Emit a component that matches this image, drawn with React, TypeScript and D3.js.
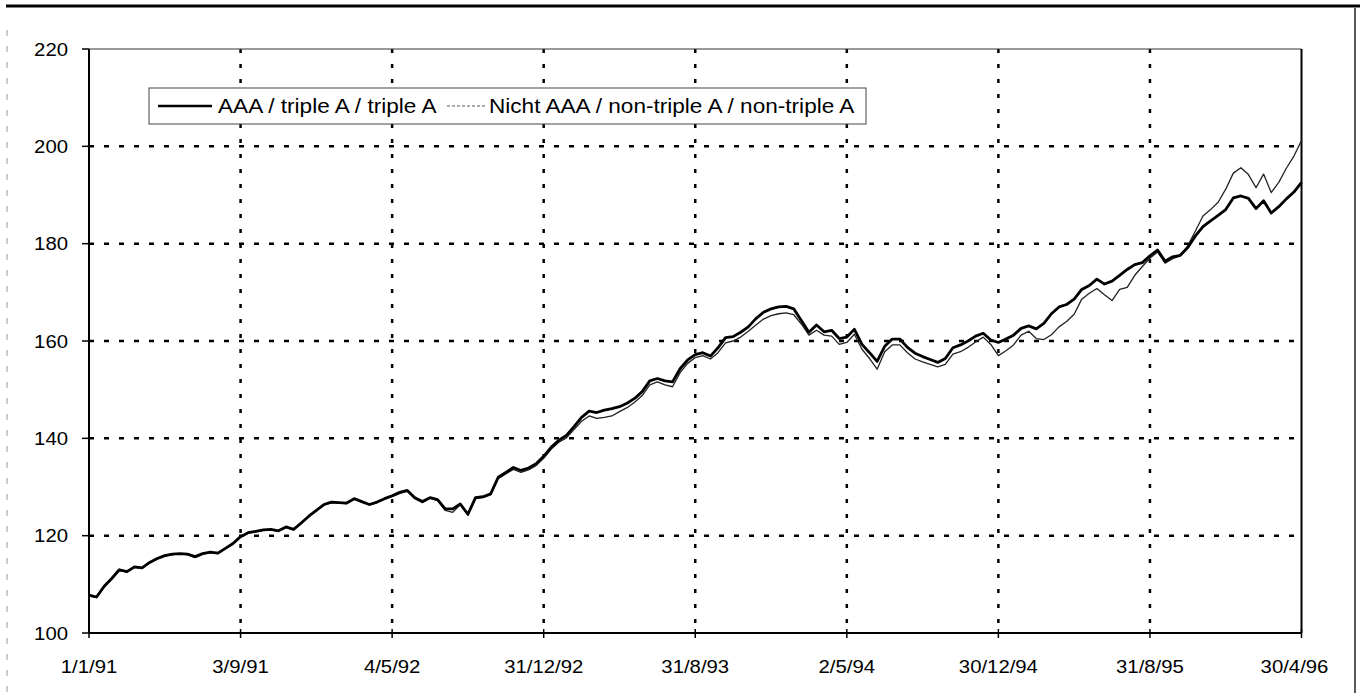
import React from "react";
import * as d3 from "d3";

const yTicks = [100, 120, 140, 160, 180, 200, 220];
const xTickLabels = ["1/1/91", "3/9/91", "4/5/92", "31/12/92", "31/8/93", "2/5/94", "30/12/94", "31/8/95", "30/4/96"];
const pointsPerLabel = 20;

const seriesNames = ["AAA / triple A / triple A", "Nicht AAA / non-triple A / non-triple A"];

const aaa = [
  107.8, 107.4, 109.6, 111.2, 113, 112.6, 113.6, 113.4, 114.5, 115.3, 115.9, 116.2, 116.3, 116.2, 115.7, 116.3, 116.6, 116.4, 117.4, 118.4,
  119.8, 120.6, 120.9, 121.2, 121.3, 121, 121.8, 121.3, 122.6, 124, 125.2, 126.4, 126.9, 126.8, 126.7, 127.6, 127, 126.4, 126.9, 127.6,
  128.2, 128.9, 129.3, 127.8, 127, 127.8, 127.4, 125.5, 125.5, 126.5, 124.4, 127.8, 128, 128.6, 132, 133, 134, 133.4, 133.9, 134.8,
  136.3, 138.2, 139.6, 140.6, 142.4, 144.3, 145.6, 145.3, 145.8, 146.1, 146.5, 147.2, 148.2, 149.6, 151.8, 152.3, 151.8, 151.6, 154.3, 156.1,
  157.2, 157.6, 156.9, 158.6, 160.7, 160.9, 161.8, 162.9, 164.6, 165.9, 166.6, 167, 167.1, 166.6, 164.2, 161.8, 163.3, 161.9, 162.2, 160.5,
  160.8, 162.4, 159.3, 157.6, 155.8, 158.9, 160.4, 160.4, 158.7, 157.5, 156.8, 156.2, 155.6, 156.4, 158.6, 159.2, 160, 161, 161.6, 160.2,
  159.7, 160.4, 161.2, 162.6, 163.1, 162.5, 163.6, 165.6, 167, 167.5, 168.6, 170.6, 171.4, 172.7, 171.7, 172.3, 173.5, 174.7, 175.7, 176.1,
  177.5, 178.7, 176.4, 177.3, 177.6, 179.2, 181.6, 183.5, 184.7, 185.8, 187, 189.4, 189.8, 189.3, 187.2, 188.8, 186.3, 187.6, 189.2, 190.6,
  192.6,
];

const nonAaa = [
  107.6, 107.3, 109.4, 111.1, 112.9, 112.5, 113.5, 113.3, 114.4, 115.2, 115.8, 116.1, 116.2, 116.1, 115.5, 116.2, 116.5, 116.3, 117.3, 118.3,
  119.7, 120.5, 120.8, 121.1, 121.2, 120.9, 121.7, 121.2, 122.5, 123.9, 125.1, 126.3, 126.8, 126.7, 126.6, 127.5, 126.9, 126.3, 126.8, 127.5,
  128, 128.7, 129.1, 127.6, 126.8, 127.7, 127.2, 125.2, 124.8, 126.4, 124.2, 127.6, 127.8, 128.4, 131.7, 132.7, 133.6, 133, 133.5, 134.4,
  135.9, 137.8, 139.2, 140.1, 141.8, 143.5, 144.6, 144.1, 144.3, 144.6, 145.5, 146.3, 147.4, 148.8, 151, 151.6, 151, 150.6, 153.5, 155.4,
  156.6, 157, 156.3, 157.6, 159.6, 160, 160.8, 162, 163.3, 164.5, 165.2, 165.6, 165.8, 165.4, 163.5, 161.2, 162.2, 161.2, 161, 159.3,
  159.7, 161.4, 158.3, 156.4, 154.2, 157.8, 159.2, 159.2, 157.6, 156.3, 155.7, 155.2, 154.7, 155.2, 157.3, 157.8, 158.7, 159.8, 160.8, 159.3,
  157, 158, 159.2, 161.2, 162, 160.5, 160.3, 161.3, 162.9, 164, 165.5, 168.6, 169.8, 170.8, 169.5, 168.3, 170.6, 171, 173.5, 175.3,
  177, 178.3, 176, 176.9, 177.5, 179.6, 182.6, 185.7, 187, 188.5, 191.2, 194.5, 195.6, 194.2, 191.5, 194.3, 190.5, 192.6, 195.5, 198,
  201.2,
];

const W = 1360;
const H = 693;
const plot = { left: 89, right: 1301.5, top: 49, bottom: 633 };
const FONT = "'Liberation Sans', Arial, Helvetica, sans-serif";
const STRETCH = 1.13;

function T({ x, y, anchor = "start", size = 18, children }: any) {
  return (
    <text
      transform={`translate(${x},${y}) scale(${STRETCH},1)`}
      textAnchor={anchor}
      fontSize={size}
      fontFamily={FONT}
      fill="#000"
    >
      {children}
    </text>
  );
}

export default function App() {
  const n = aaa.length - 1;
  const x = d3.scaleLinear().domain([0, n]).range([plot.left, plot.right]);
  const y = d3.scaleLinear().domain([100, 220]).range([plot.bottom, plot.top]);
  const line = d3
    .line<number>()
    .x((_, i) => x(i))
    .y((d) => y(d));

  const xTickIdx = xTickLabels.map((_, i) => i * pointsPerLabel);

  return (
    <svg
      width={W}
      height={H}
      style={{ position: "absolute", left: 0, top: 0, background: "#fff" }}
    >
      <rect x={0} y={0} width={W} height={H} fill="#fff" />
      {/* page frame */}
      <line x1={6} x2={W} y1={6} y2={6} stroke="#000" strokeWidth={3} />
      <line x1={1355} x2={1355} y1={8} y2={H} stroke="#222" strokeWidth={1.5} />
      <line x1={7} x2={7} y1={30} y2={H} stroke="#999" strokeWidth={1} strokeDasharray="6 10" />

      {/* horizontal gridlines */}
      {yTicks
        .filter((t) => t > 100 && t < 220)
        .map((t) => (
          <line
            key={"hg" + t}
            x1={plot.left}
            x2={plot.right}
            y1={y(t)}
            y2={y(t)}
            stroke="#000"
            strokeWidth={2.5}
            strokeDasharray="5 10"
          />
        ))}
      {/* vertical gridlines */}
      {xTickIdx.slice(1, -1).map((i) => (
        <line
          key={"vg" + i}
          x1={x(i)}
          x2={x(i)}
          y1={plot.top}
          y2={plot.bottom}
          stroke="#000"
          strokeWidth={2.5}
          strokeDasharray="4 11"
        />
      ))}

      {/* plot border */}
      <line x1={plot.left} x2={plot.right} y1={plot.top} y2={plot.top} stroke="#333" strokeWidth={1} />
      <line x1={plot.right} x2={plot.right} y1={plot.top} y2={plot.bottom} stroke="#000" strokeWidth={2} />
      <line x1={plot.left} x2={plot.left} y1={plot.top} y2={plot.bottom} stroke="#000" strokeWidth={2} />
      <line x1={plot.left} x2={plot.right} y1={plot.bottom} y2={plot.bottom} stroke="#000" strokeWidth={2} />

      {/* y ticks & labels */}
      {yTicks.map((t) => (
        <g key={"yt" + t}>
          <line x1={plot.left - 7} x2={plot.left} y1={y(t)} y2={y(t)} stroke="#000" strokeWidth={1.5} />
          <T x={68} y={y(t) + 6.5} anchor="end" size={18}>
            {t}
          </T>
        </g>
      ))}

      {/* x ticks & labels */}
      {xTickIdx.map((i, k) => (
        <g key={"xt" + i}>
          <line x1={x(i)} x2={x(i)} y1={plot.bottom - 4} y2={plot.bottom + 5} stroke="#000" strokeWidth={1.5} />
          <T x={k === xTickIdx.length - 1 ? x(i) - 7 : x(i)} y={673} anchor="middle" size={18}>
            {xTickLabels[k]}
          </T>
        </g>
      ))}

      {/* series */}
      <path d={line(nonAaa) || ""} fill="none" stroke="#222" strokeWidth={1.3} strokeLinejoin="round" />
      <path d={line(aaa) || ""} fill="none" stroke="#000" strokeWidth={2.8} strokeLinejoin="round" />

      {/* legend */}
      <rect x={149} y={88} width={717} height={36} fill="#fff" stroke="#444" strokeWidth={1} />
      <line x1={158} x2={212} y1={106} y2={106} stroke="#000" strokeWidth={2.6} />
      <T x={218} y={113} size={20}>
        {seriesNames[0]}
      </T>
      <line x1={447} x2={486} y1={106} y2={106} stroke="#555" strokeWidth={1} strokeDasharray="3 2" />
      <T x={489} y={113} size={20}>
        {seriesNames[1]}
      </T>
    </svg>
  );
}
